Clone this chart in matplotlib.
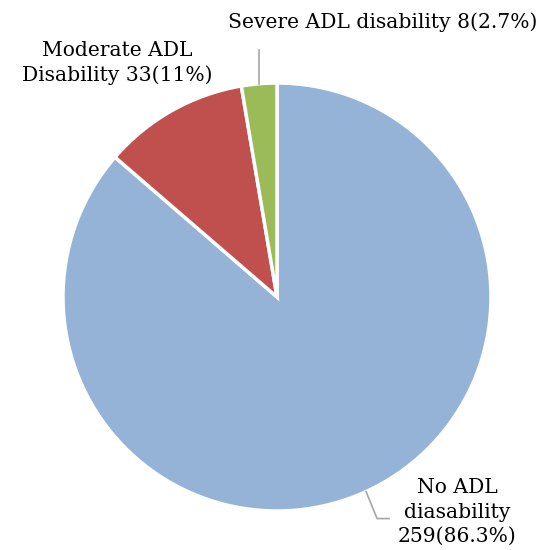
import numpy as np
import matplotlib.pyplot as plt

labels = ["No ADL\ndiasability\n259(86.3%)",
          "Moderate ADL\nDisability 33(11%)",
          "Severe ADL disability 8(2.7%)"]
counts = [259, 33, 8]
colors = ['#95B3D7', '#C0504D', '#9BBB59']

plt.rcParams['font.family'] = ['DejaVu Serif']

fig = plt.figure(figsize=(5.45, 5.5), dpi=100)
ax = fig.add_axes([0, 0, 1, 1])

cx, cy, r = 277, 253, 214
wedges, _ = ax.pie(counts, colors=colors, startangle=90, counterclock=False,
                   center=(cx, cy), radius=r, frame=True,
                   wedgeprops=dict(edgecolor='white', linewidth=2.5))
ax.set_xlim(0, 545)
ax.set_ylim(0, 550)
ax.set_aspect('equal')
ax.axis('off')

def edge_point(w):
    ang = np.deg2rad((w.theta1 + w.theta2) / 2)
    return cx + r * np.cos(ang), cy + r * np.sin(ang)

# leader for severe slice (straight up)
sx, sy = edge_point(wedges[2])
ax.plot([sx, sx], [sy, sy + 34], color='#A6A6A6', lw=1.2)
# leader for no-ADL slice
bx, by = edge_point(wedges[0])
ax.plot([bx, bx + 11, bx + 23], [by, by - 27, by - 27], color='#A6A6A6', lw=1.2)

fs = 14.6
ax.text(383, 528, labels[2], ha='center', va='center', fontsize=fs)
ax.text(117, 487, labels[1], ha='center', va='center', fontsize=fs, linespacing=1.38)
ax.text(457, 38, labels[0], ha='center', va='center', fontsize=fs, linespacing=1.38)

fig.savefig('out.png', dpi=100)
